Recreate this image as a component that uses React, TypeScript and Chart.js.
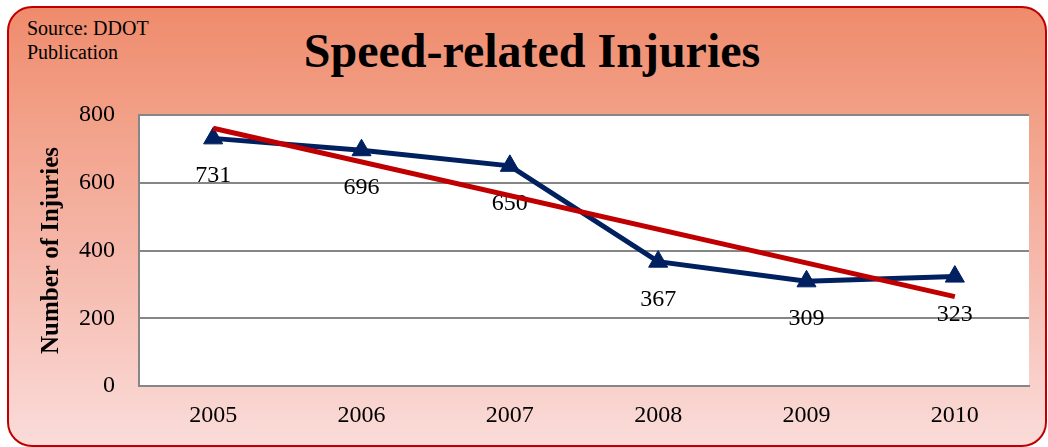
import React, { useEffect, useRef } from "react";
import { Chart, registerables } from "chart.js";

Chart.register(...registerables);

const years = ["2005", "2006", "2007", "2008", "2009", "2010"];
const injuries = [731, 696, 650, 367, 309, 323];
// linear trendline endpoints
const trend = [761, null, null, null, null, 264];
const yMin = 0;
const yMax = 800;
const yStep = 200;

const SERIF = '"Liberation Serif", "Times New Roman", serif';

export default function App() {
  const ref = useRef<HTMLCanvasElement>(null);

  useEffect(() => {
    if (!ref.current) return;

    const plotBg = {
      id: "plotBg",
      beforeDraw(chart: any) {
        const { ctx, chartArea: a } = chart;
        ctx.save();
        ctx.fillStyle = "#ffffff";
        ctx.fillRect(a.left, a.top, a.right - a.left, a.bottom - a.top);
        ctx.restore();
      },
    };

    const valueLabels = {
      id: "valueLabels",
      afterDatasetDraw(chart: any, args: any) {
        if (args.index !== 0) return;
        const { ctx } = chart;
        const meta = chart.getDatasetMeta(0);
        ctx.save();
        ctx.font = `24px ${SERIF}`;
        ctx.fillStyle = "#000000";
        ctx.textAlign = "center";
        ctx.textBaseline = "alphabetic";
        meta.data.forEach((p: any, i: number) => {
          ctx.fillText(String(injuries[i]), p.x, p.y + 44);
        });
        ctx.restore();
      },
    };

    const chart = new Chart(ref.current, {
      type: "line",
      data: {
        labels: years,
        datasets: [
          {
            data: injuries,
            borderColor: "#002060",
            backgroundColor: "#002060",
            borderWidth: 5,
            pointStyle: "triangle",
            pointRadius: 11,
            pointBorderWidth: 1,
            pointBorderColor: "#002060",
            pointBackgroundColor: "#002060",
            tension: 0,
            order: 1,
          },
          {
            data: trend as any,
            borderColor: "#C00000",
            backgroundColor: "#C00000",
            borderWidth: 5,
            pointRadius: 0,
            spanGaps: true,
            tension: 0,
            order: 0,
          },
        ],
      },
      options: {
        responsive: false,
        animation: false,
        events: [],
        layout: { padding: { top: 115, right: 19, bottom: 0, left: 0 } },
        plugins: {
          legend: { display: false },
          tooltip: { enabled: false },
          title: { display: false },
        },
        scales: {
          x: {
            offset: true,
            grid: { display: false, drawTicks: false },
            border: { color: "#868686", width: 2 },
            ticks: {
              font: { family: SERIF, size: 24 },
              color: "#000000",
              padding: 15,
              maxRotation: 0,
            },
            afterFit(s: any) {
              s.height = 61;
            },
          },
          y: {
            min: yMin,
            max: yMax,
            ticks: {
              stepSize: yStep,
              font: { family: SERIF, size: 24 },
              color: "#000000",
              padding: 24,
            },
            grid: { color: "#868686", lineWidth: 2, drawTicks: false },
            border: { color: "#868686", width: 2 },
            title: {
              display: true,
              text: "Number of Injuries",
              font: { family: SERIF, size: 25, weight: "bold" },
              color: "#000000",
              padding: { top: 37, bottom: 0 },
            },
            afterFit(s: any) {
              s.width = 139;
            },
          },
        },
      },
      plugins: [plotBg, valueLabels],
    });

    return () => chart.destroy();
  }, []);

  return (
    <div
      style={{
        position: "fixed",
        left: 0,
        top: 0,
        width: 1048,
        height: 447,
        overflow: "hidden",
        background: "#ffffff",
      }}
    >
      <div
        style={{
          position: "absolute",
          left: 7,
          top: 6,
          width: 1040,
          height: 441,
          boxSizing: "border-box",
          border: "2px solid #C00000",
          borderRadius: 25,
          background:
            "linear-gradient(to bottom, #EF8B6C 0%, #F2A088 25%, #F5B6A8 55%, #F8CBC4 80%, #FADCD9 100%)",
        }}
      />
      <div
        style={{
          position: "absolute",
          left: 27,
          top: 16,
          fontFamily: SERIF,
          fontSize: 20,
          lineHeight: "24px",
          color: "#000",
        }}
      >
        Source: DDOT
        <br />
        Publication
      </div>
      <div
        style={{
          position: "absolute",
          left: 0,
          top: 27,
          width: 1064,
          textAlign: "center",
          fontFamily: SERIF,
          fontSize: 48,
          fontWeight: "bold",
          lineHeight: 1,
          color: "#000",
        }}
      >
        Speed-related Injuries
      </div>
      <canvas
        ref={ref}
        width={1048}
        height={447}
        style={{ position: "absolute", left: 0, top: 0, width: 1048, height: 447 }}
      />
    </div>
  );
}
